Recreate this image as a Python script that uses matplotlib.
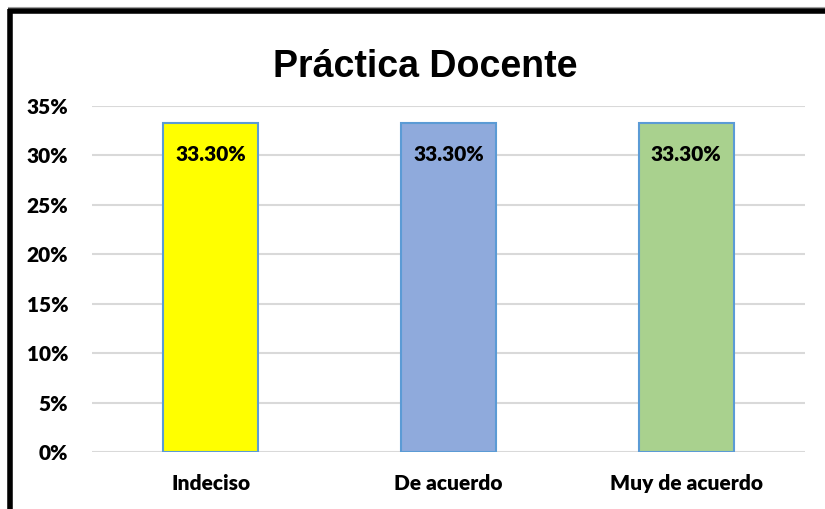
import matplotlib
matplotlib.use("Agg")
import matplotlib.pyplot as plt
from matplotlib.lines import Line2D

categories = ["Indeciso", "De acuerdo", "Muy de acuerdo"]
values = [33.3, 33.3, 33.3]
labels = ["33.30%", "33.30%", "33.30%"]
colors = ["#FFFF00", "#8FAADC", "#A9D18E"]
yticks = [0, 5, 10, 15, 20, 25, 30, 35]
ytick_labels = ["0%", "5%", "10%", "15%", "20%", "25%", "30%", "35%"]

plt.rcParams['font.family'] = ['Lato', 'DejaVu Sans']
FW = "heavy"
FS = 15

fig = plt.figure(figsize=(8.25, 5.09), dpi=100)
ax = fig.add_axes([92/825, 1-452/509, (805-92)/825, (452-106)/509])

x = range(len(categories))
bars = ax.bar(x, values, width=0.4, color=colors, edgecolor="#5B9BD5", linewidth=1.5, zorder=3)
for b, lab in zip(bars, labels):
    ax.text(b.get_x() + b.get_width()/2, b.get_height() - 3.2, lab, ha="center", va="center",
            fontsize=FS, fontweight=FW, color="black", zorder=4)

ax.set_xlim(-0.5, 2.5)
ax.set_ylim(0, 35)
ax.set_yticks(yticks)
ax.set_yticklabels(ytick_labels, fontsize=FS, fontweight=FW)
ax.set_xticks(list(x))
ax.set_xticklabels(categories, fontsize=FS, fontweight=FW)
ax.tick_params(axis="both", length=0)
ax.tick_params(axis="y", pad=17)
ax.tick_params(axis="x", pad=16)
ax.grid(axis="y", color="#D9D9D9", linewidth=1.5, zorder=0)
for s in ax.spines.values():
    s.set_visible(False)

fig.text(425.5/825, 1-67/509, "Práctica Docente", ha="center", va="center",
         fontsize=27, fontweight="bold", family=["Liberation Sans", "DejaVu Sans"])

# frame
fig.add_artist(Line2D([8/825, 1], [1-7/509, 1-7/509], color="#A0A0A0", linewidth=0.8, transform=fig.transFigure))
fig.add_artist(Line2D([8/825, 1], [1-10.5/509, 1-10.5/509], color="black", linewidth=4, transform=fig.transFigure, solid_capstyle="butt"))
fig.add_artist(Line2D([10/825, 10/825], [0, 1-8.5/509], color="black", linewidth=4, transform=fig.transFigure, solid_capstyle="butt"))

fig.savefig("out.png", dpi=100, facecolor="white")
